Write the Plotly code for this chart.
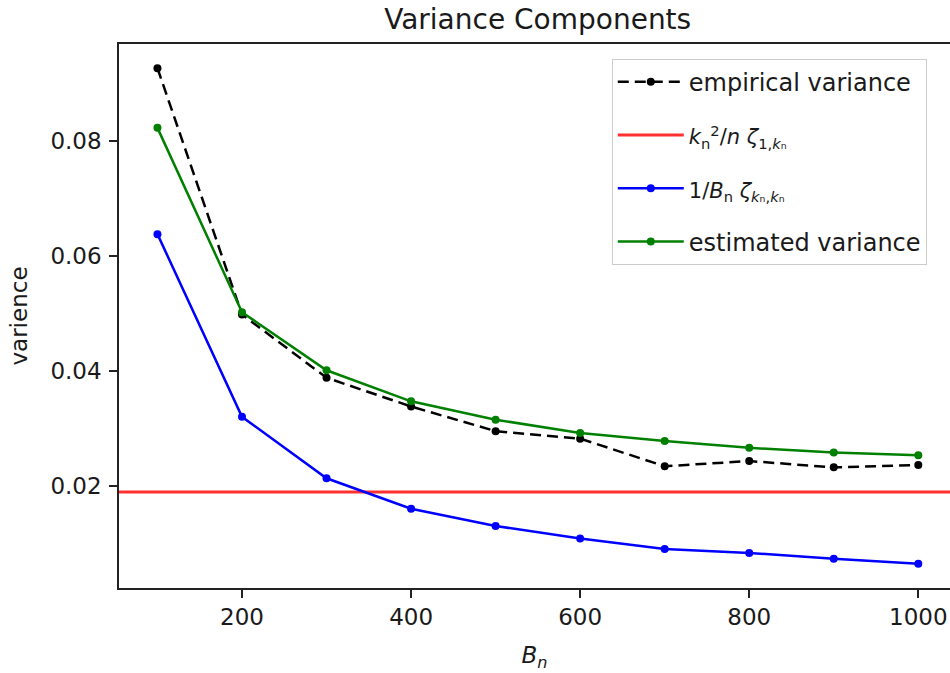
import plotly.graph_objects as go

# ---- data ----
B_n = [100, 200, 300, 400, 500, 600, 700, 800, 900, 1000]
empirical_variance = [0.0927, 0.0498, 0.0388, 0.0338, 0.0295, 0.0282, 0.0234, 0.0243, 0.0232, 0.0236]
zeta_kn_kn_term = [0.0638, 0.0320, 0.0213, 0.0160, 0.0130, 0.0108, 0.0090, 0.0083, 0.0073, 0.0064]
estimated_variance = [0.0823, 0.0502, 0.0401, 0.0347, 0.0315, 0.0292, 0.0278, 0.0266, 0.0258, 0.0253]
zeta_1_kn_term = 0.0189

x_ticks = [200, 400, 600, 800, 1000]
y_ticks = [0.02, 0.04, 0.06, 0.08]
X_RANGE = [54.5, 1037.5]
Y_RANGE = [0.0022, 0.0969]

FONT = "DejaVu Sans"
TXT = "#1a1a1a"

label_emp = "empirical variance"
label_red = ("<span style='font-size:21px'><i>k</i><sub>n</sub><sup>2</sup>/<i>n</i> "
             "<i>ζ</i><sub>1,<i>k</i>ₙ</sub></span>")
label_blue = ("<span style='font-size:21px'>1/<i>B</i><sub>n</sub> "
              "<i>ζ</i><sub><i>k</i>ₙ,<i>k</i>ₙ</sub></span>")
label_est = "estimated variance"

fig = go.Figure()

fig.add_trace(go.Scatter(
    x=B_n, y=empirical_variance, name=label_emp, mode="lines+markers",
    line=dict(color="black", width=2.5, dash="11px,6px"),
    marker=dict(color="black", size=8), legendgroup="a"))

fig.add_trace(go.Scatter(
    x=X_RANGE, y=[zeta_1_kn_term, zeta_1_kn_term], name=label_red, mode="lines",
    line=dict(color="#ff3030", width=3), legendgroup="b"))

fig.add_trace(go.Scatter(
    x=B_n, y=zeta_kn_kn_term, name=label_blue, mode="lines+markers",
    line=dict(color="#0000ff", width=2.5),
    marker=dict(color="#0000ff", size=8), legendgroup="c"))

fig.add_trace(go.Scatter(
    x=B_n, y=estimated_variance, name=label_est, mode="lines+markers",
    line=dict(color="#008000", width=2.5),
    marker=dict(color="#008000", size=8), legendgroup="d"))

fig.update_layout(
    width=950, height=673,
    margin=dict(l=119, r=0, t=44, b=85, autoexpand=False),
    paper_bgcolor="white", plot_bgcolor="white",
    font=dict(family=FONT, size=23, color=TXT),
    title=dict(text="Variance Components", x=0.566, xref="container", xanchor="center",
               y=0.972, yref="container", yanchor="middle",
               font=dict(family=FONT, size=28, color=TXT)),
    showlegend=True,
    legend=dict(x=0.593, xanchor="left", y=0.973, yanchor="top",
                bgcolor="white", bordercolor="#cccccc", borderwidth=1,
                font=dict(family=FONT, size=24, color=TXT),
                tracegroupgap=19, itemwidth=66),
    xaxis=dict(range=X_RANGE, tickvals=x_ticks, ticktext=[str(v) for v in x_ticks],
               automargin=False,
               showgrid=False, zeroline=False, showline=True, linecolor="#222",
               linewidth=1.5, mirror=True, ticks="outside", ticklen=8, tickwidth=1.5,
               tickcolor="#222", tickfont=dict(size=23),
               title=dict(text="<i>B</i><sub><i>n</i></sub>", standoff=18,
                          font=dict(size=23))),
    yaxis=dict(range=Y_RANGE, tickvals=y_ticks, ticktext=["%.2f" % v for v in y_ticks],
               automargin=False, ticklabelstandoff=3,
               showgrid=False, zeroline=False, showline=True, linecolor="#222",
               linewidth=1.5, ticks="outside", ticklen=8, tickwidth=1.5,
               tickcolor="#222", tickfont=dict(size=23),
               title=dict(text="varience", standoff=16, font=dict(size=23))),
)

fig.write_html("out.html", config={"displayModeBar": False},
               post_script="document.body.style.margin='0';")
